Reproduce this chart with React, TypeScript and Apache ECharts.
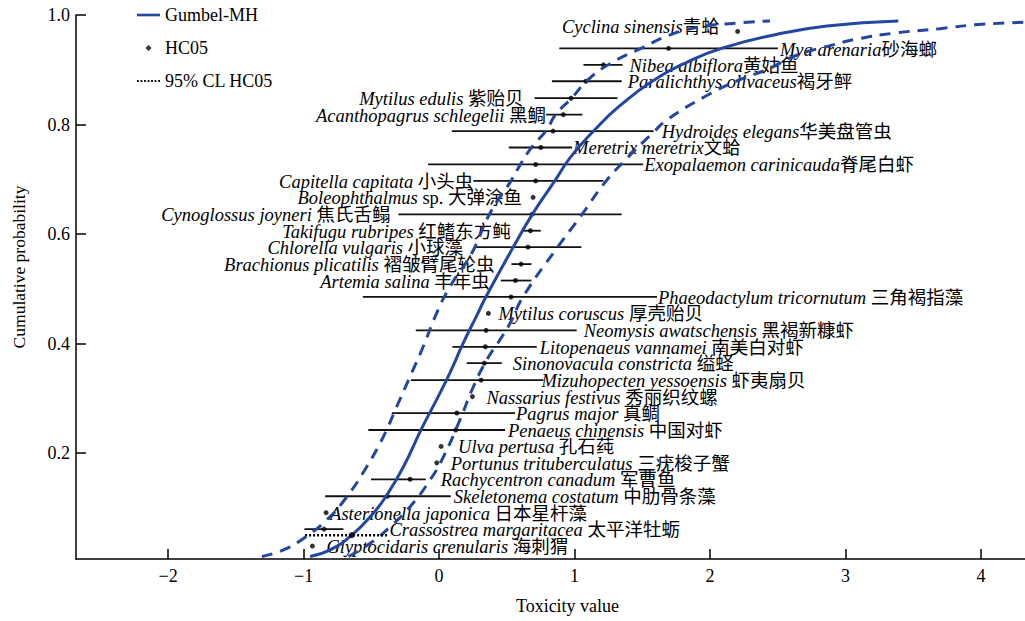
import React, { useEffect, useRef } from 'react';
import * as echarts from 'echarts';

// Species (bottom to top in cumulative probability)
const latinNames = [
  'Glyptocidaris crenularis', 'Crassostrea margaritacea', 'Asterionella japonica', 'Skeletonema costatum',
  'Rachycentron canadum', 'Portunus trituberculatus', 'Ulva pertusa', 'Penaeus chinensis',
  'Pagrus major', 'Nassarius festivus', 'Mizuhopecten yessoensis', 'Sinonovacula constricta',
  'Litopenaeus vannamei', 'Neomysis awatschensis', 'Mytilus coruscus', 'Phaeodactylum tricornutum',
  'Artemia salina', 'Brachionus plicatilis', 'Chlorella vulgaris', 'Takifugu rubripes',
  'Cynoglossus joyneri', 'Boleophthalmus', 'Capitella capitata', 'Exopalaemon carinicauda',
  'Meretrix meretrix', 'Hydroides elegans', 'Acanthopagrus schlegelii', 'Mytilus edulis',
  'Paralichthys olivaceus', 'Nibea albiflora', 'Mya arenaria', 'Cyclina sinensis',
];
const restNames = [
  ' 海刺猬', ' 太平洋牡蛎', ' 日本星杆藻', ' 中肋骨条藻',
  ' 军曹鱼', ' 三疣梭子蟹', ' 孔石莼', ' 中国对虾',
  ' 真鲷', ' 秀丽织纹螺', ' 虾夷扇贝', ' 缢蛏',
  ' 南美白对虾', ' 黑褐新糠虾', ' 厚壳贻贝', ' 三角褐指藻',
  ' 丰年虫', ' 褶皱臂尾轮虫', ' 小球藻', ' 红鳍东方鲀',
  ' 焦氏舌鳎', ' sp. 大弹涂鱼', ' 小头虫', '脊尾白虾',
  '文蛤', '华美盘管虫', ' 黑鲷', ' 紫贻贝',
  '褐牙鲆', '黄姑鱼', '砂海螂', '青蛤',
];
const probs = [
  0.030, 0.061, 0.091, 0.121, 0.152, 0.182, 0.212, 0.242,
  0.273, 0.303, 0.333, 0.364, 0.394, 0.424, 0.455, 0.485,
  0.515, 0.545, 0.576, 0.606, 0.636, 0.667, 0.697, 0.727,
  0.758, 0.788, 0.818, 0.848, 0.879, 0.909, 0.939, 0.970,
];
const lows: (number | null)[] = [
  null, -0.994, null, -0.841, -0.502, null, null, -0.522,
  -0.349, null, -0.207, 0.204, 0.098, -0.172, null, -0.563,
  0.456, 0.534, 0.266, 0.610, -0.300, null, 0.253, -0.081,
  0.515, 0.094, 0.790, 0.705, 0.833, 1.066, 0.887, null,
];
const mids = [
  -0.935, -0.849, -0.834, -0.382, -0.214, -0.017, 0.015, 0.123,
  0.131, 0.246, 0.310, 0.334, 0.342, 0.347, 0.364, 0.531,
  0.564, 0.605, 0.656, 0.674, 0.686, 0.694, 0.713, 0.713,
  0.751, 0.841, 0.917, 0.974, 1.084, 1.213, 1.694, 2.204,
];
const highs: (number | null)[] = [
  null, -0.706, null, 0.086, -0.098, null, null, 0.487,
  0.561, null, 0.770, 0.463, 0.721, 1.016, null, 1.609,
  0.682, 0.682, 1.051, 0.751, 1.348, null, 1.213, 1.507,
  0.982, 1.584, 1.058, 1.317, 1.348, 1.354, 2.501, null,
];

// Fitted Gumbel-MH curve and its confidence bands
const gumbelCurve = [
  [-0.952, 0.011], [-0.804, 0.023], [-0.644, 0.050], [-0.485, 0.090], [-0.386, 0.123],
  [-0.263, 0.175], [-0.128, 0.245], [-0.017, 0.298], [0.081, 0.347], [0.179, 0.401],
  [0.278, 0.451], [0.352, 0.488], [0.55, 0.577], [0.686, 0.635], [0.854, 0.697],
  [0.969, 0.740], [1.148, 0.790], [1.328, 0.833], [1.584, 0.881], [1.840, 0.915],
  [2.096, 0.940], [2.480, 0.964], [2.863, 0.980], [3.390, 0.989],
];
const upperBand = [
  [-1.308, 0.011], [-1.149, 0.023], [-1.001, 0.044], [-0.829, 0.078], [-0.681, 0.120],
  [-0.534, 0.175], [-0.411, 0.230], [-0.312, 0.285], [-0.214, 0.340], [-0.116, 0.395],
  [-0.017, 0.456], [0.081, 0.504], [0.241, 0.565], [0.376, 0.638], [0.531, 0.697],
  [0.605, 0.729], [0.686, 0.759], [0.790, 0.789], [0.863, 0.819], [0.982, 0.849],
  [1.092, 0.880], [1.255, 0.910], [1.506, 0.941], [1.720, 0.965], [1.926, 0.978],
  [2.185, 0.985], [2.443, 0.989],
];
const lowerBand = [
  [-0.669, 0.011], [-0.509, 0.035], [-0.362, 0.065], [-0.214, 0.102], [-0.066, 0.151],
  [0.032, 0.193], [0.155, 0.261], [0.253, 0.321], [0.352, 0.370], [0.450, 0.407],
  [0.524, 0.437], [0.622, 0.486], [0.869, 0.574], [1.044, 0.632], [1.218, 0.692],
  [1.354, 0.730], [1.579, 0.785], [1.686, 0.809], [1.970, 0.852], [2.221, 0.882],
  [2.418, 0.900], [2.635, 0.926], [2.886, 0.944], [3.083, 0.956], [3.365, 0.967],
  [3.697, 0.975], [3.956, 0.982], [4.325, 0.987],
];
const hc05 = [-0.644, 0.05];
const hc05Low = -0.989;
const hc05High = -0.384;
const xTickValues = [-2, -1, 0, 1, 2, 3, 4];
const yTickValues = [0.2, 0.4, 0.6, 0.8, 1.0];

// Label layout: side of the error bar and pixel gap
const labelSide = [
  'r', 'r', 'r', 'r', 'r', 'r', 'r', 'r',
  'r', 'r', 'r', 'r', 'r', 'r', 'r', 'r',
  'l', 'l', 'l', 'l', 'l', 'l', 'l', 'r',
  'r', 'r', 'l', 'l', 'r', 'r', 'r', 'l',
];
const labelDx = [
  14, 46, 4, 3, 15, 14, 17, 3,
  1, 14, -2, 11, 3, 7, 10, 1,
  11, 17, 12, 11, 8, 11, 0, 1,
  1, 8, 0, 11, 6, 7, 2, 18,
];
const labelDy = [
  0, 0, 0, 0, 0, 0, 0, 0, 0, 0, 0, 0, 0, 0, 0, 0,
  0, 0, 0, 0, 0, 0, 0, 0, 0, 0, 0, 0, 0, 0, 1, -5,
];

const SERIF = "'Liberation Serif', 'Times New Roman', serif";
const CN = "'Liberation Serif', 'Noto Sans CJK SC', serif";
const BLUE = '#2347A0';
const LABEL_SIZE = 18.5;

export default function App() {
  const ref = useRef<HTMLDivElement>(null);
  useEffect(() => {
    if (!ref.current) return;
    const chart = echarts.init(ref.current, null, { renderer: 'svg' });
    const ciData = probs.map((p, k) => ({
      value: [lows[k] ?? mids[k], mids[k], highs[k] ?? mids[k], p, k],
    }));
    const option: any = {
      animation: false,
      grid: { left: 76, right: 0, top: 15, bottom: 62, containLabel: false },
      legend: {
        orient: 'vertical',
        left: 137,
        top: 5,
        padding: 0,
        itemWidth: 23,
        itemHeight: 6,
        itemGap: 13,
        symbolKeepAspect: true,
        selectedMode: false,
        itemStyle: { borderWidth: 0 },
        textStyle: { fontFamily: SERIF, fontSize: 18, color: '#000', lineHeight: 20 },
        data: [
          { name: 'Gumbel-MH', icon: 'path://M0,0H26V3H0Z' },
          { name: 'HC05', icon: 'path://M3,0L6,3L3,6L0,3Z' },
          {
            name: '95% CL HC05',
            icon: 'path://M0,0h2v2.5h-2z M4,0h2v2.5h-2z M8,0h2v2.5h-2z M12,0h2v2.5h-2z M16,0h2v2.5h-2z M20,0h2v2.5h-2z M24,0h2v2.5h-2z',
          },
        ],
      },
      xAxis: {
        type: 'value',
        min: -2.68,
        max: 4.325,
        splitNumber: 7,
        minInterval: 1,
        maxInterval: 1,
        axisLine: { onZero: false, lineStyle: { color: '#000', width: 1.5 } },
        axisTick: { inside: true, length: 10, lineStyle: { color: '#000', width: 1.5 } },
        splitLine: { show: false },
        axisLabel: {
          showMinLabel: false,
          showMaxLabel: false,
          margin: 8,
          fontFamily: SERIF,
          fontSize: 18,
          color: '#000',
          formatter: (v: number) => {
            const t = xTickValues.find((x) => Math.abs(x - v) < 1e-6);
            if (t === undefined) return '';
            return t < 0 ? '\u2212' + Math.abs(t) : String(t);
          },
        },
        name: 'Toxicity value',
        nameLocation: 'middle',
        nameGap: 38,
        nameTextStyle: { fontFamily: SERIF, fontSize: 18, color: '#000', padding: [0, 0, 0, 34] },
      },
      yAxis: {
        type: 'value',
        min: 0.0064,
        max: 1.0,
        splitNumber: 5,
        axisLine: { show: true, onZero: false, lineStyle: { color: '#000', width: 1.5 } },
        axisTick: { show: true, inside: true, length: 10, lineStyle: { color: '#000', width: 1.5 } },
        splitLine: { show: false },
        axisLabel: {
          showMinLabel: false,
          margin: 6,
          fontFamily: SERIF,
          fontSize: 18,
          color: '#000',
          formatter: (v: number) => {
            const t = yTickValues.find((x) => Math.abs(x - v) < 1e-6);
            return t === undefined ? '' : t.toFixed(1);
          },
        },
        name: 'Cumulative probability',
        nameLocation: 'middle',
        nameGap: 48,
        nameTextStyle: { fontFamily: SERIF, fontSize: 17.5, color: '#000', padding: [0, 0, 0, 40] },
      },
      series: [
        {
          type: 'custom',
          name: 'species',
          data: ciData,
          encode: { x: [0, 1, 2], y: 3 },
          z: 2,
          renderItem: (params: any, api: any) => {
            const k = api.value(4);
            const y = api.value(3);
            const lo = api.coord([api.value(0), y]);
            const mid = api.coord([api.value(1), y]);
            const hi = api.coord([api.value(2), y]);
            const children: any[] = [];
            if (lows[k] != null) {
              children.push({
                type: 'line',
                shape: { x1: lo[0], y1: lo[1], x2: hi[0], y2: hi[1] },
                style: { stroke: '#111', lineWidth: 1.8 },
              });
            }
            const right = labelSide[k] === 'r';
            const ax = right ? hi[0] + labelDx[k] : lo[0] - labelDx[k];
            children.push({
              type: 'text',
              x: ax,
              y: mid[1] + 1 + labelDy[k],
              style: {
                text: `{i|${latinNames[k]}}{n|${restNames[k]}}`,
                rich: {
                  i: { fontStyle: 'italic', fontFamily: SERIF, fontSize: LABEL_SIZE, fill: '#000', color: '#000' },
                  n: { fontFamily: CN, fontSize: LABEL_SIZE, fill: '#000', color: '#000' },
                },
                fontFamily: SERIF,
                fontSize: LABEL_SIZE,
                fill: '#000',
                align: right ? 'left' : 'right',
                verticalAlign: 'middle',
              },
            });
            return { type: 'group', children };
          },
        },
        {
          type: 'scatter',
          name: 'points',
          data: mids.map((m, k) => [m, probs[k]]),
          symbol: 'circle',
          symbolSize: 5,
          itemStyle: { color: '#000' },
          z: 3,
        },
        {
          type: 'line',
          name: 'upper',
          data: upperBand,
          smooth: true,
          symbol: 'none',
          lineStyle: { color: BLUE, width: 3, type: [11, 8] },
          z: 4,
        },
        {
          type: 'line',
          name: 'lower',
          data: lowerBand,
          smooth: true,
          symbol: 'none',
          lineStyle: { color: BLUE, width: 3, type: [11, 8] },
          z: 4,
        },
        {
          type: 'line',
          name: 'Gumbel-MH',
          data: gumbelCurve,
          smooth: true,
          symbol: 'none',
          lineStyle: { color: BLUE, width: 3 },
          itemStyle: { color: BLUE },
          z: 5,
        },
        {
          type: 'line',
          name: '95% CL HC05',
          data: [[hc05Low, hc05[1]], [hc05High, hc05[1]]],
          symbol: 'none',
          lineStyle: { color: '#000', width: 2.5, type: [2, 2] },
          itemStyle: { color: '#000' },
          z: 5,
        },
        {
          type: 'scatter',
          name: 'HC05',
          data: [hc05],
          symbol: 'circle',
          symbolSize: 6,
          itemStyle: { color: '#000' },
          z: 6,
        },
      ],
    };
    chart.setOption(option);
    return () => chart.dispose();
  }, []);
  return (
    <div
      ref={ref}
      style={{ position: 'absolute', left: 0, top: 0, width: 1025, height: 621, background: '#fff' }}
    />
  );
}
